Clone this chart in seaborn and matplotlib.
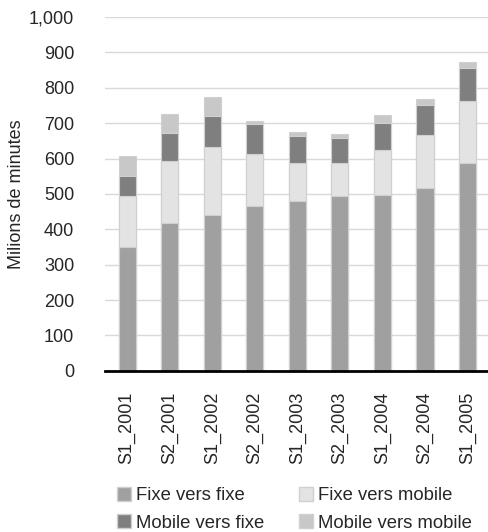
import pandas as pd
import matplotlib.pyplot as plt
import matplotlib.patches as mpatches
import seaborn as sns
from matplotlib.ticker import FuncFormatter

sns.set_style("white")
plt.rcParams["font.family"] = ["Liberation Sans", "DejaVu Sans"]

# Données (millions de minutes)
periodes = ["S1_2001", "S2_2001", "S1_2002", "S2_2002", "S1_2003",
            "S2_2003", "S1_2004", "S2_2004", "S1_2005"]
fixe_fixe = [350, 418, 440, 467, 480, 494, 498, 517, 588]
fixe_mobile = [145, 176, 194, 147, 106, 93, 125, 150, 176]
mobile_fixe = [57, 79, 86, 84, 77, 72, 77, 84, 92]
mobile_mobile = [54, 53, 53, 9, 13, 11, 22, 17, 18]

series = ["Fixe vers fixe", "Fixe vers mobile", "Mobile vers fixe", "Mobile vers mobile"]
couleurs = ["#a0a0a0", "#e3e3e3", "#7f7f7f", "#c8c8c8"]

df = pd.DataFrame({
    "periode": periodes,
    "Fixe vers fixe": fixe_fixe,
    "Fixe vers mobile": fixe_mobile,
    "Mobile vers fixe": mobile_fixe,
    "Mobile vers mobile": mobile_mobile,
})

# cumul pour empiler
cumul = df[series].cumsum(axis=1)

fig = plt.figure(figsize=(4.88, 5.32), dpi=100)
ax = fig.add_axes([0.215, 0.303, 0.785, 0.665])

# on dessine du haut vers le bas pour superposer
for s, c in reversed(list(zip(series, couleurs))):
    sns.barplot(x=df["periode"], y=cumul[s], color=c, width=0.4,
                edgecolor="#d0d0d0", linewidth=0.8, ax=ax, zorder=2)

ax.set_ylim(0, 1000)
ax.set_yticks(range(0, 1001, 100))
ax.yaxis.set_major_formatter(FuncFormatter(lambda v, p: f"{int(v):,}"))
ax.yaxis.grid(True, color="#d9d9d9", linewidth=1)
ax.set_axisbelow(True)
for sp in ["top", "right", "left"]:
    ax.spines[sp].set_visible(False)
ax.spines["bottom"].set_color("black")
ax.spines["bottom"].set_linewidth(2)
ax.spines["bottom"].set_zorder(5)
ax.tick_params(axis="y", length=0, labelsize=13, pad=22)
ax.tick_params(axis="x", length=0, labelsize=13, rotation=90, pad=15)
ax.set_xlabel("")
ax.set_ylabel("Milions de minutes", fontsize=13, labelpad=3)
ax.set_xlim(-0.52, 8.48)

# légende : FF, FM / MF, MM
ordre = [0, 2, 1, 3]
poignees = [mpatches.Patch(facecolor=couleurs[i], edgecolor="#d0d0d0", label=series[i])
            for i in ordre]
fig.legend(handles=poignees, loc="lower left", bbox_to_anchor=(0.218, -0.02),
           ncol=2, frameon=False, fontsize=13.3, handlelength=0.75, handleheight=0.75,
           handletextpad=0.25, columnspacing=1.9, labelspacing=0.55,
           borderaxespad=0.2)

fig.savefig("out.png", dpi=100)
